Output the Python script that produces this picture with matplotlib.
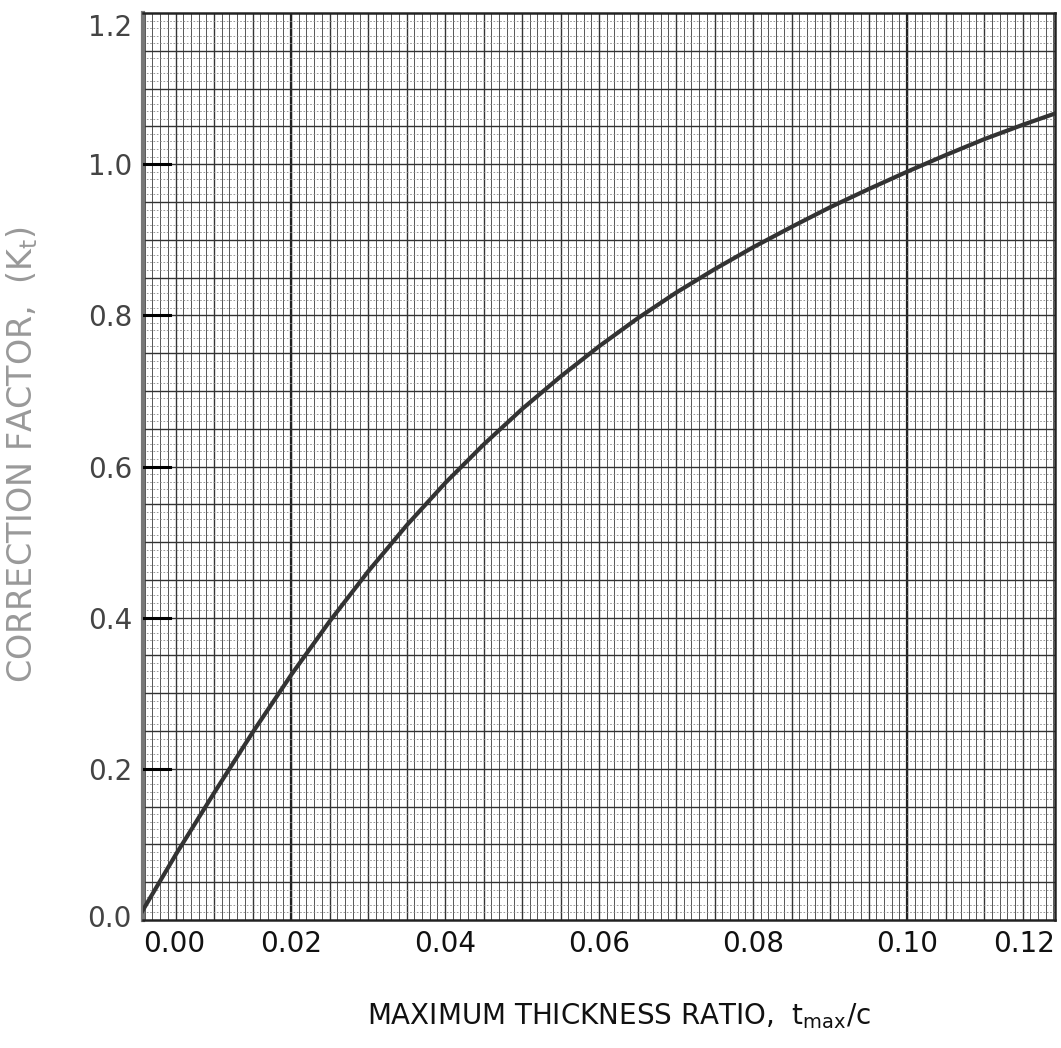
import numpy as np
import matplotlib
matplotlib.use("Agg")
import matplotlib.pyplot as plt

# curve (thickness ratio vs correction factor)
thickness_ratio = [0.0, 0.005, 0.01, 0.015, 0.02, 0.025, 0.03, 0.035, 0.04, 0.045,
                   0.05, 0.055, 0.06, 0.065, 0.07, 0.075, 0.08, 0.085, 0.09, 0.095,
                   0.10, 0.105, 0.11, 0.115, 0.1192]
correction_factor = [0.0, 0.086, 0.168, 0.248, 0.324, 0.395, 0.461, 0.522, 0.578, 0.629,
                     0.676, 0.719, 0.759, 0.796, 0.830, 0.861, 0.890, 0.917, 0.943, 0.967,
                     0.990, 1.012, 1.033, 1.052, 1.067]

x_tick_pos = [0.0048, 0.02, 0.04, 0.06, 0.08, 0.10, 0.1152]
x_tick_labels = ["0.00", "0.02", "0.04", "0.06", "0.08", "0.10", "0.12"]
y_tick_pos = [0.006, 0.2, 0.4, 0.6, 0.8, 1.0, 1.184]
y_tick_labels = ["0.0", "0.2", "0.4", "0.6", "0.8", "1.0", "1.2"]

x_min, x_max = 0.00078, 0.1192
y_min, y_max = 0.0, 1.2

plt.rcParams['font.family'] = ['DejaVu Sans']

fig = plt.figure(figsize=(10.61, 10.48), dpi=100)
ax = fig.add_axes([0.1348, 0.1221, 0.8595, 0.8655])

# graph paper grid
for gx in np.arange(0.001, 0.12, 0.001):
    ax.axvline(gx, color="#555555", lw=0.7, zorder=1)
for gx in np.arange(0.005, 0.12, 0.005):
    ax.axvline(gx, color="#333333", lw=1.0, zorder=1)
for gx in [0.02, 0.10]:
    ax.axvline(gx, color="#222222", lw=1.6, zorder=1)
for gy in np.arange(0.01, 1.2, 0.01):
    ax.axhline(gy, color="#888888", lw=0.6, ls=(0, (2, 2)), zorder=1)
for gy in np.arange(0.05, 1.2, 0.05):
    ax.axhline(gy, color="#333333", lw=1.0, zorder=1)

# short heavy marks at the labelled rows
for gy in [0.2, 0.4, 0.6, 0.8, 1.0]:
    ax.plot([x_min, x_min + 0.0035], [gy, gy], color="black", lw=2.2, zorder=3)

ax.plot(thickness_ratio, correction_factor, color="#333333", lw=3.0, zorder=4)

ax.set_xlim(x_min, x_max)
ax.set_ylim(y_min, y_max)

ax.set_xticks(x_tick_pos)
ax.set_xticklabels(x_tick_labels, fontsize=20, color="#111111")
ax.set_yticks(y_tick_pos)
ax.set_yticklabels(y_tick_labels, fontsize=20, color="#444444")
ax.tick_params(axis="both", length=0)
ax.tick_params(axis="x", pad=7)
ax.tick_params(axis="y", pad=8)

for side in ["top", "right", "bottom"]:
    ax.spines[side].set_linewidth(1.8)
    ax.spines[side].set_color("#222222")
ax.spines["left"].set_linewidth(3.0)
ax.spines["left"].set_color("#777777")

ax.set_xlabel(r"MAXIMUM THICKNESS RATIO,  $\mathregular{t_{max}/c}$",
              fontsize=20, color="#111111")
ax.xaxis.set_label_coords(0.522, -0.09)
ax.set_ylabel(r"CORRECTION FACTOR,  (K$_{\mathregular{t}}$)",
              fontsize=24, color="#999999")
ax.yaxis.set_label_coords(-0.113, 0.513)

fig.savefig("out.png", dpi=100)
